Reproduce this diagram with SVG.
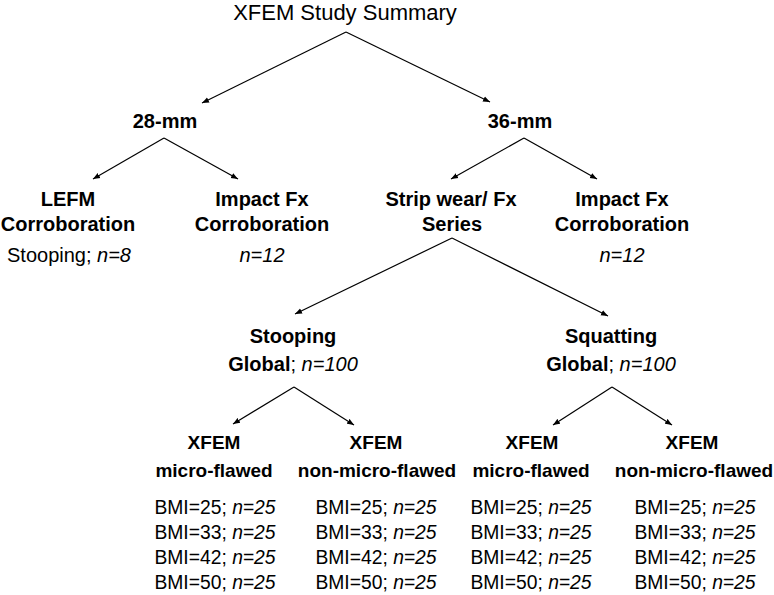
<svg xmlns="http://www.w3.org/2000/svg" width="774" height="595" viewBox="0 0 774 595">
<defs>
<marker id="ah" viewBox="0 0 10 10" refX="10" refY="5" markerWidth="7" markerHeight="7" markerUnits="userSpaceOnUse" orient="auto">
<path d="M0,1 L10,5 L0,9 Z" fill="#000"/>
</marker>
</defs>
<style>
text{font-family:"Liberation Sans",Arial,sans-serif;fill:#000;text-anchor:middle}
.t{font-size:22px}
.b{font-size:20px;font-weight:bold}
.r{font-size:20px}
.b2{font-size:19px;font-weight:bold}
.r2{font-size:19.3px}
.i{font-style:italic;font-weight:normal}
.n{font-weight:normal}
.c line{stroke:#000;stroke-width:1.2;marker-end:url(#ah)}
</style>
<rect width="774" height="595" fill="#fff"/>
<g id="connectors" class="c">
<line x1="346" y1="32" x2="202" y2="103"/>
<line x1="346" y1="32" x2="490" y2="102"/>
<line x1="164" y1="138" x2="93" y2="179"/>
<line x1="164" y1="138" x2="238" y2="179"/>
<line x1="524" y1="138" x2="451" y2="179"/>
<line x1="524" y1="138" x2="597" y2="179"/>
<line x1="452" y1="238" x2="295" y2="314"/>
<line x1="452" y1="238" x2="608" y2="316"/>
<line x1="294" y1="387" x2="233" y2="424"/>
<line x1="294" y1="387" x2="354" y2="425"/>
<line x1="612" y1="387" x2="553" y2="425"/>
<line x1="612" y1="387" x2="672" y2="425"/>
</g>
<g id="root"><text class="t" x="345" y="20">XFEM Study Summary</text></g>
<g id="n28"><text class="b" x="165" y="128">28-mm</text></g>
<g id="n36"><text class="b" x="520" y="128">36-mm</text></g>
<g id="lefm">
<text class="b" x="68" y="206">LEFM</text>
<text class="b" x="68" y="231">Corroboration</text>
<text class="r" x="69" y="262">Stooping; <tspan class="i">n=8</tspan></text>
</g>
<g id="impact28">
<text class="b" x="262" y="206">Impact Fx</text>
<text class="b" x="262" y="231">Corroboration</text>
<text class="r i" x="262" y="262">n=12</text>
</g>
<g id="strip">
<text class="b" x="451" y="206">Strip wear/ Fx</text>
<text class="b" x="452" y="231">Series</text>
</g>
<g id="impact36">
<text class="b" x="622" y="206">Impact Fx</text>
<text class="b" x="622" y="231">Corroboration</text>
<text class="r i" x="622" y="262">n=12</text>
</g>
<g id="stooping">
<text class="b" x="293" y="343">Stooping</text>
<text class="b" x="293" y="371">Global<tspan class="n">; </tspan><tspan class="i">n=100</tspan></text>
</g>
<g id="squatting">
<text class="b" x="611" y="343">Squatting</text>
<text class="b" x="611" y="371">Global<tspan class="n">; </tspan><tspan class="i">n=100</tspan></text>
</g>
<g id="stoop-micro">
<text class="b2" x="214" y="449">XFEM</text>
<text class="b2" x="214" y="477">micro-flawed</text>
<text class="r2" x="215" y="514">BMI=25; <tspan class="i">n=25</tspan></text>
<text class="r2" x="215" y="539">BMI=33; <tspan class="i">n=25</tspan></text>
<text class="r2" x="215" y="564">BMI=42; <tspan class="i">n=25</tspan></text>
<text class="r2" x="215" y="589">BMI=50; <tspan class="i">n=25</tspan></text>
</g>
<g id="stoop-non">
<text class="b2" x="376" y="449">XFEM</text>
<text class="b2" x="377" y="477">non-micro-flawed</text>
<text class="r2" x="376" y="514">BMI=25; <tspan class="i">n=25</tspan></text>
<text class="r2" x="376" y="539">BMI=33; <tspan class="i">n=25</tspan></text>
<text class="r2" x="376" y="564">BMI=42; <tspan class="i">n=25</tspan></text>
<text class="r2" x="376" y="589">BMI=50; <tspan class="i">n=25</tspan></text>
</g>
<g id="squat-micro">
<text class="b2" x="532" y="449">XFEM</text>
<text class="b2" x="531" y="477">micro-flawed</text>
<text class="r2" x="531" y="514">BMI=25; <tspan class="i">n=25</tspan></text>
<text class="r2" x="531" y="539">BMI=33; <tspan class="i">n=25</tspan></text>
<text class="r2" x="531" y="564">BMI=42; <tspan class="i">n=25</tspan></text>
<text class="r2" x="531" y="589">BMI=50; <tspan class="i">n=25</tspan></text>
</g>
<g id="squat-non">
<text class="b2" x="692" y="449">XFEM</text>
<text class="b2" x="694" y="477">non-micro-flawed</text>
<text class="r2" x="695" y="514">BMI=25; <tspan class="i">n=25</tspan></text>
<text class="r2" x="695" y="539">BMI=33; <tspan class="i">n=25</tspan></text>
<text class="r2" x="695" y="564">BMI=42; <tspan class="i">n=25</tspan></text>
<text class="r2" x="695" y="589">BMI=50; <tspan class="i">n=25</tspan></text>
</g>
</svg>
